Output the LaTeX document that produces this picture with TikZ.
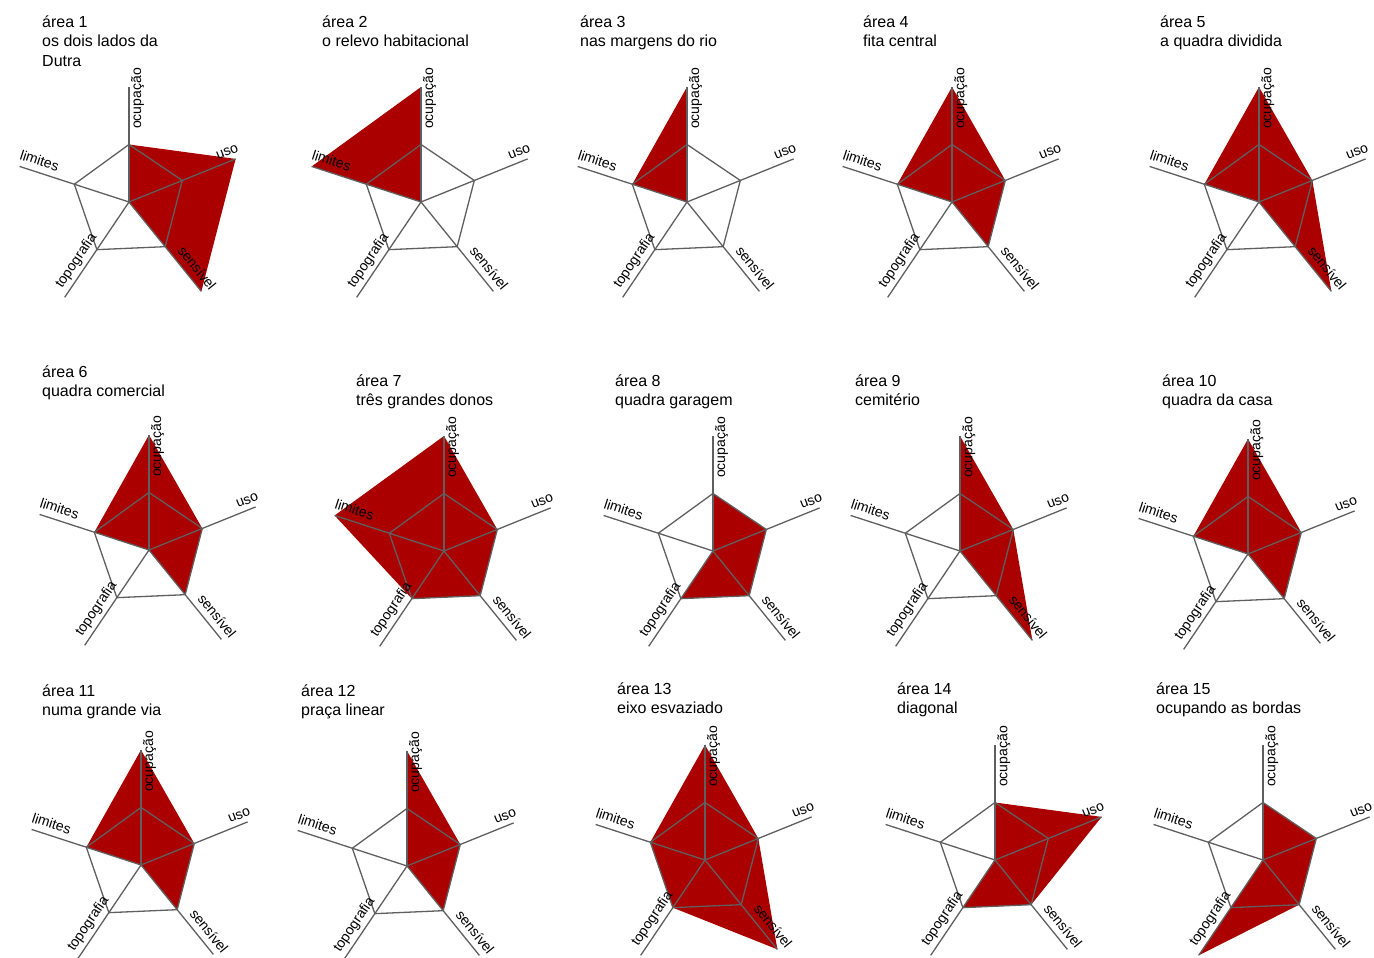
\documentclass[tikz,border=0pt]{standalone}
\usepackage{fontspec}
\setmainfont{Liberation Sans}
\usepackage{tikz}

\definecolor{grade}{RGB}{95,95,95}
\definecolor{vermelho}{RGB}{170,0,0}
\tikzset{
  eixo/.style={draw=grade, line width=1.3pt, line join=round},
  mancha/.style={fill=vermelho},
  rotulo/.style={inner sep=0pt, font=\fontsize{14}{14}\selectfont},
  titulo/.style={inner sep=0pt, anchor=north west, align=left, font=\fontsize{16}{19.5}\selectfont}
}

\begin{document}
\begin{tikzpicture}[x=1pt,y=1pt]
\useasboundingbox (0,0) rectangle (1374,958);
\foreach \n/\cx/\cy/\vo/\vu/\vs/\vt/\vl/\tx/\ty/\nome in {
  1/129/756/1/2/2/0/0/42/942.5/{os dois lados da\\Dutra},
  2/421/756/2/0/0/0/2/322/942.5/{o relevo habitacional},
  3/687/756/2/0/0/0/1/580/942.5/{nas margens do rio},
  4/952/756/2/1/1/0/1/863/942.5/{fita central},
  5/1259/756/2/1/2/0/1/1160/942.5/{a quadra dividida},
  6/149/408/2/1/1/0/1/42/592.5/{quadra comercial},
  7/444/407/2/1/1/1/2/356/583.5/{três grandes donos},
  8/713/407/1/1/1/1/0/615/583.5/{quadra garagem},
  9/960/407/2/1/2/0/0/855/583.5/{cemitério},
  10/1248/404/2/1/1/0/1/1162/583.5/{quadra da casa},
  11/141/93/2/1/1/0/1/42/273.5/{numa grande via},
  12/407/92/2/1/1/0/0/301/273.5/{praça linear},
  13/705/98/2/1/2/1/1/617/275.5/{eixo esvaziado},
  14/995/98/1/2/1/1/0/897/275.5/{diagonal},
  15/1263/98/1/1/1/2/0/1156/275.5/{ocupando as bordas}}{
  \node[titulo] (tit\n) at (\tx,\ty) {área \n\\\nome};
  \begin{scope}[shift={(\cx,\cy)}]
    \coordinate (c\n) at (0,0);
    \foreach \a/\e in {90/o,22/u,-51/s,-124/t,162/l}{
      \coordinate (\e\n-1) at (\a:57.5);
      \coordinate (\e\n-2) at (\a:115);
    }
    \coordinate (vo\n) at ({90}:{\vo*57.5});
    \coordinate (vu\n) at ({22}:{\vu*57.5});
    \coordinate (vs\n) at ({-51}:{\vs*57.5});
    \coordinate (vt\n) at ({-124}:{\vt*57.5});
    \coordinate (vl\n) at ({162}:{\vl*57.5});
    \fill[mancha] (vo\n) -- (vu\n) -- (vs\n) -- (vt\n) -- (vl\n) -- cycle;
    \draw[eixo] (c\n) -- (o\n-2);
    \draw[eixo] (c\n) -- (u\n-2);
    \draw[eixo] (c\n) -- (s\n-2);
    \draw[eixo] (c\n) -- (t\n-2);
    \draw[eixo] (c\n) -- (l\n-2);
    \draw[eixo] (o\n-1) -- (u\n-1) -- (s\n-1) -- (t\n-1) -- (l\n-1) -- cycle;
    \node[rotulo, rotate=90, anchor=north west] (ro\n) at (2,73) {ocupação};
    \node[rotulo, rotate=22, anchor=base west] (ru\n) at (89,42) {uso};
    \node[rotulo, rotate=-51, anchor=base west] (rs\n) at (48,-49) {sensível};
    \node[rotulo, rotate=56, anchor=base east] (rt\n) at (-32,-35) {topografia};
    \node[rotulo, rotate=-18, anchor=base west] (rl\n) at (-110,43) {limites};
  \end{scope}
}
\end{tikzpicture}
\end{document}
